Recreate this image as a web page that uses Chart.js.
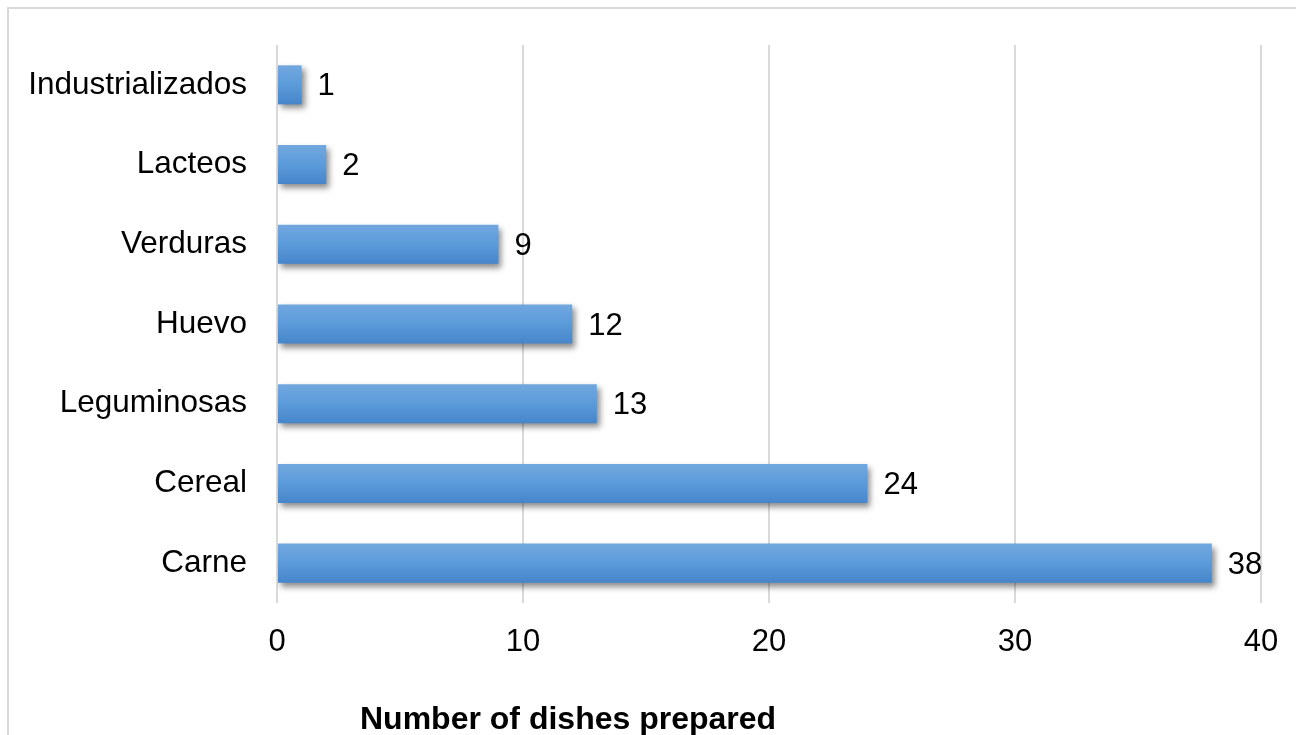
<!DOCTYPE html>
<html>
<head>
<meta charset="utf-8">
<script src="https://cdn.jsdelivr.net/npm/chart.js@4.4.0/dist/chart.umd.min.js"></script>
<style>
  html, body { margin: 0; padding: 0; background: #fff; }
  #wrap { position: relative; width: 1296px; height: 735px; }
  #frame { position: absolute; left: 7px; top: 7px; width: 1300px; height: 740px;
           border-left: 2px solid #d9d9d9; border-top: 2px solid #d9d9d9; box-sizing: border-box; }
  #barChart { position: absolute; left: 0; top: 0; }
  #xtitle { position: absolute; left: 360px; top: 700px; font: bold 32px "Liberation Sans", Arial, sans-serif;
            color: #000; white-space: nowrap; }
</style>
</head>
<body>
<div id="wrap">
  <div id="frame"></div>
  <canvas id="barChart" width="1296" height="735"></canvas>
  <div id="xtitle">Number of dishes prepared</div>
</div>
<script>
const categories = ['Industrializados', 'Lacteos', 'Verduras', 'Huevo', 'Leguminosas', 'Cereal', 'Carne'];
const dishes = [1, 2, 9, 12, 13, 24, 38];
const xTicks = [0, 10, 20, 30, 40];

const FONT = '"Liberation Sans", Arial, sans-serif';
const BAR_PCT = 0.49;

// gradient per bar, lighter on top
function barFill(context) {
  const chart = context.chart;
  const yScale = chart.scales && chart.scales.y;
  if (!chart.chartArea || !yScale || context.dataIndex === undefined) return '#5b9bd5';
  const center = yScale.getPixelForValue(context.dataIndex);
  const step = chart.chartArea.height / categories.length;
  const half = step * BAR_PCT / 2;
  if (!isFinite(center) || !isFinite(half)) return '#5b9bd5';
  const g = chart.ctx.createLinearGradient(0, center - half, 0, center + half);
  g.addColorStop(0, '#72a7de');
  g.addColorStop(0.5, '#5b9bda');
  g.addColorStop(1, '#4585ca');
  return g;
}

const shadowPlugin = {
  id: 'barShadow',
  beforeDatasetsDraw(chart) {
    const ctx = chart.ctx;
    ctx.save();
    ctx.shadowColor = 'rgba(0,0,0,0.45)';
    ctx.shadowBlur = 6;
    ctx.shadowOffsetX = 3;
    ctx.shadowOffsetY = 4;
  },
  afterDatasetsDraw(chart) {
    chart.ctx.restore();
  }
};

const valueLabels = {
  id: 'valueLabels',
  afterDatasetsDraw(chart) {
    const ctx = chart.ctx;
    const meta = chart.getDatasetMeta(0);
    ctx.save();
    ctx.font = '31px ' + FONT;
    ctx.fillStyle = '#000';
    ctx.textAlign = 'left';
    ctx.textBaseline = 'middle';
    meta.data.forEach((bar, i) => {
      ctx.fillText(String(dishes[i]), bar.x + 16, bar.y + 2);
    });
    ctx.restore();
  }
};

const ctx = document.getElementById('barChart');
new Chart(ctx, {
  type: 'bar',
  data: {
    labels: categories,
    datasets: [{
      data: dishes,
      backgroundColor: barFill,
      borderWidth: 0,
      categoryPercentage: 1,
      barPercentage: BAR_PCT
    }]
  },
  options: {
    indexAxis: 'y',
    responsive: false,
    animation: false,
    layout: { padding: { top: 45, right: 35, left: 0, bottom: 0 } },
    plugins: {
      legend: { display: false },
      tooltip: { enabled: false }
    },
    scales: {
      x: {
        min: 0,
        max: 40,
        afterBuildTicks(scale) { scale.ticks = xTicks.map(v => ({ value: v })); },
        afterFit(scale) {
          scale.height = 132;
          scale.paddingLeft = 0;
          scale.paddingRight = 0;
        },
        grid: { color: '#d9d9d9', lineWidth: 2, drawTicks: false },
        border: { display: false },
        ticks: { color: '#000', font: { family: FONT, size: 31 }, padding: 21 }
      },
      y: {
        afterFit(scale) {
          scale.width = 277;
          scale.paddingTop = 0;
          scale.paddingBottom = 0;
        },
        grid: { display: false },
        border: { display: false },
        ticks: { color: '#000', font: { family: FONT, size: 31.5 }, padding: 22 }
      }
    }
  },
  plugins: [shadowPlugin, valueLabels]
});
</script>
</body>
</html>
